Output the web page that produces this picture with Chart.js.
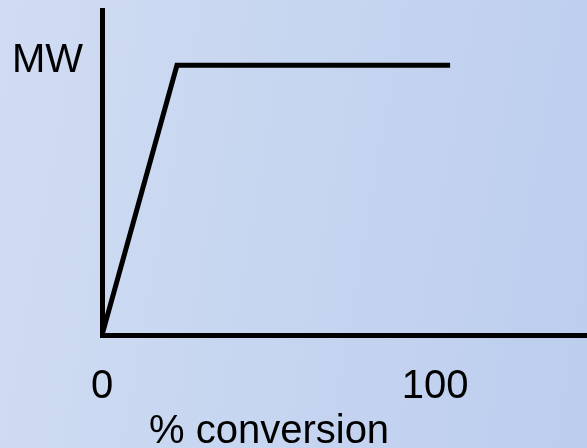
<!DOCTYPE html>
<html>
<head>
<meta charset="utf-8">
<script src="https://cdn.jsdelivr.net/npm/chart.js@4"></script>
<style>
  html, body { margin: 0; padding: 0; }
  body {
    width: 587px; height: 448px; overflow: hidden;
    background: linear-gradient(100deg, #d0dcf2 0%, #c6d5f0 50%, #bccdee 100%);
  }
  #wrap { width: 587px; height: 448px; }
</style>
</head>
<body>
<div id="wrap"><canvas id="myChart"></canvas></div>
<script>
// % conversion vs MW (step-growth style sketch)
const conversion = [0, 22.5, 104.5];
const mw = [0, 83, 83];
const xTicks = [0, 100];
const xLabel = "% conversion";
const yLabel = "MW";

const FONT = "'Liberation Sans', Arial, sans-serif";

const textLabels = {
    id: "textLabels",
    afterDraw(chart) {
        const ctx = chart.ctx;
        ctx.save();
        ctx.fillStyle = "#000";
        ctx.font = "40px " + FONT;
        ctx.textBaseline = "alphabetic";
        ctx.textAlign = "left";
        ctx.fillText(yLabel, 12, 72);
        ctx.fillText(xLabel, 149, 443);
        ctx.restore();
    },
};

const ctx = document.getElementById("myChart");
new Chart(ctx, {
    type: "line",
    data: {
        datasets: [
            {
                data: conversion.map((x, i) => ({ x: x, y: mw[i] })),
                borderColor: "#000",
                borderWidth: 5,
                pointRadius: 0,
                tension: 0,
                borderJoinStyle: "miter",
                borderCapStyle: "butt",
                fill: false,
            },
        ],
    },
    plugins: [textLabels],
    options: {
        responsive: true,
        maintainAspectRatio: false,
        animation: false,
        layout: { padding: { left: 102, top: 10, right: 0, bottom: 9 } },
        plugins: { legend: { display: false }, tooltip: { enabled: false } },
        scales: {
            x: {
                type: "linear",
                min: 0,
                max: 145.6,
                afterBuildTicks(scale) {
                    scale.ticks = xTicks.map((v) => ({ value: v }));
                },
                grid: { display: false, drawTicks: false },
                border: { display: true, color: "#000", width: 5 },
                ticks: {
                    color: "#000",
                    font: { family: FONT, size: 40 },
                    padding: 28,
                    maxRotation: 0,
                    autoSkip: false,
                },
            },
            y: {
                min: 0,
                max: 100,
                grid: { display: false, drawTicks: false },
                border: { display: true, color: "#000", width: 5 },
                ticks: { display: false },
            },
        },
    },
});
</script>
</body>
</html>
